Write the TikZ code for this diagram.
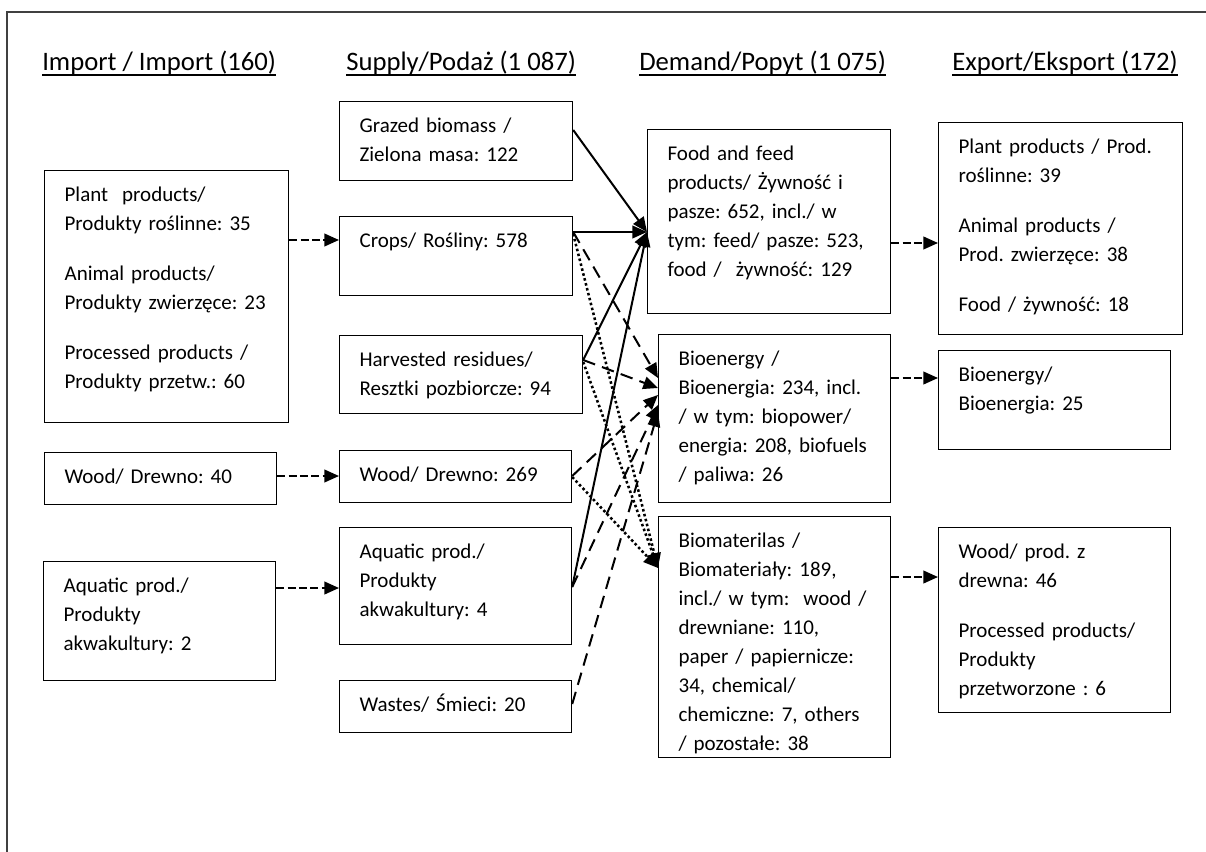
\documentclass[tikz,border=0pt]{standalone}
\usepackage{fontspec}
\setmainfont{Carlito}
\usetikzlibrary{arrows.meta,calc}
\frenchspacing
\newcommand{\hdr}[1]{\setbox0\hbox{#1}\rlap{\rule[-3.7pt]{\wd0}{1.1pt}}\box0}

\begin{document}
\begin{tikzpicture}[x=0.75pt,y=-0.75pt,>={Triangle[length=11pt,width=9.5pt]},
  box/.style={draw,line width=0.9pt,anchor=north west,align=left,inner xsep=15pt,inner ysep=0pt,
    text height=23.25pt,font=\fontsize{15.75pt}{21.75pt}\selectfont},
  head/.style={anchor=base west,inner sep=0pt,font=\fontsize{20pt}{24pt}\selectfont},
  trade/.style={->,line width=1.5pt,dash pattern=on 6pt off 2.5pt},
  feed/.style={->,line width=1.5pt},
  energy/.style={->,line width=1.5pt,dash pattern=on 9.5pt off 5.5pt},
  mat/.style={->,line width=1.9pt,dash pattern=on 1.9pt off 1.9pt}]
\useasboundingbox (0,0) rectangle (1206,852);
\draw[line width=1pt,black!75] (7,870) |- (1220,12);

\node[head] (himp) at (42,71) {\hdr{Import / Import (160)}};
\node[head] (hsup) at (346,71) {\hdr{Supply/Podaż (1 087)}};
\node[head] (hdem) at (639,71) {\hdr{Demand/Popyt (1 075)}};
\node[head] (hexp) at (952,71) {\hdr{Export/Eksport (172)}};

\node[box,text width=153pt,text depth=165.75pt] (imp1) at (44,170)
  {Plant\ \ products/\\Produkty~roślinne:~35\\[15.75pt]Animal products/\\Produkty~zwierzęce:~23\\[15.75pt]Processed products /\\Produkty~przetw.:~60};
\node[box,text width=144pt,text depth=15.75pt] (imp2) at (44,452) {Wood/ Drewno: 40};
\node[box,text width=144pt,text depth=66pt] (imp3) at (43,561) {Aquatic prod./\\Produkty\\akwakultury: 2};

\node[box,text width=144.75pt,text depth=36pt] (sup1) at (339,101) {Grazed biomass /\\Zielona~masa:~122};
\node[box,text width=144.75pt,text depth=36pt] (sup2) at (339,216) {Crops/ Rośliny: 578};
\node[box,text width=152.25pt,text depth=35.25pt] (sup3) at (339,335) {Harvested~residues/\\Resztki~pozbiorcze:~94};
\node[box,text width=144pt,text depth=15.75pt] (sup4) at (339,450) {Wood/ Drewno: 269};
\node[box,text width=144pt,text depth=64.5pt] (sup5) at (339,527) {Aquatic prod./\\Produkty\\akwakultury: 4};
\node[box,text width=144pt,text depth=15.75pt] (sup6) at (339,680) {Wastes/ Śmieci: 20};

\node[box,text width=152.25pt,text depth=114.75pt] (dem1) at (647,129)
  {Food and feed\\products/~Żywność~i\\pasze:~652,~incl./~w\\tym:~feed/~pasze:~523,\\food /\ \ żywność: 129};
\node[box,text width=144pt,text depth=102.75pt] (dem2) at (658,334)
  {Bioenergy /\\Bioenergia:~234,~incl.\\/~w~tym:~biopower/\\energia:~208,~biofuels\\/ paliwa: 26};
\node[box,text width=144pt,text depth=157.5pt] (dem3) at (658,516)
  {Biomaterilas /\\Biomateriały:~189,\\incl./~w~tym:\ \ wood~/\\drewniane: 110,\\paper~/~papiernicze:\\34, chemical/\\chemiczne:~7,~others\\/ pozostałe: 38};

\node[box,text width=153pt,text depth=135.75pt] (exp1) at (938,122)
  {Plant~products~/~Prod.\\roślinne: 39\\[15.75pt]Animal products /\\Prod.~zwierzęce:~38\\[15.75pt]Food / żywność: 18};
\node[box,text width=144pt,text depth=51pt] (exp2) at (938,350) {Bioenergy/\\Bioenergia: 25};
\node[box,text width=144pt,text depth=115.5pt] (exp3) at (938,527)
  {Wood/ prod. z\\drewna: 46\\[15.75pt]Processed~products/\\Produkty\\przetworzone : 6};

\draw[trade] ($(imp1.north east)+(0,70)$) -- ($(sup2.north west)+(0,24)$);
\draw[trade] ($(imp2.north east)+(0,24)$) -- ($(sup4.north west)+(0,26)$);
\draw[trade] ($(imp3.north east)+(0,27)$) -- ($(sup5.north west)+(0,61)$);
\draw[trade] ($(dem1.north east)+(0,114)$) -- ($(exp1.north west)+(0,121)$);
\draw[trade] ($(dem2.north east)+(0,44)$) -- ($(exp2.north west)+(0,28)$);
\draw[trade] ($(dem3.north east)+(0,61)$) -- ($(exp3.north west)+(0,50)$);

\draw[feed] ($(sup1.north east)+(0,29)$) -- ($(dem1.north west)+(0,103)$);
\draw[feed] ($(sup2.north east)+(0,16)$) -- ($(dem1.north west)+(0,103)$);
\draw[feed] ($(sup3.north east)+(0,25)$) -- ($(dem1.north west)+(0,103)$);
\draw[feed] ($(sup5.north east)+(0,60)$) -- ($(dem1.north west)+(0,103)$);

\draw[energy] ($(sup2.north east)+(0,16)$) -- ($(dem2.north west)+(0,44)$);
\draw[energy] ($(sup3.north east)+(0,25)$) -- ($(dem2.north west)+(0,54)$);
\draw[energy] ($(sup4.north east)+(0,26)$) -- ($(dem2.north west)+(0,61)$);
\draw[energy] ($(sup5.north east)+(0,60)$) -- ($(dem2.north west)+(0,71)$);
\draw[energy] ($(sup6.north east)+(0,24)$) -- ($(dem2.north west)+(0,78)$);

\draw[mat] ($(sup2.north east)+(0,18)$) -- ($(dem3.north west)+(0,52)$);
\draw[mat] ($(sup3.north east)+(0,27)$) -- ($(dem3.north west)+(0,52)$);
\draw[mat] ($(sup4.north east)+(0,27)$) -- ($(dem3.north west)+(0,52)$);
\end{tikzpicture}
\end{document}
